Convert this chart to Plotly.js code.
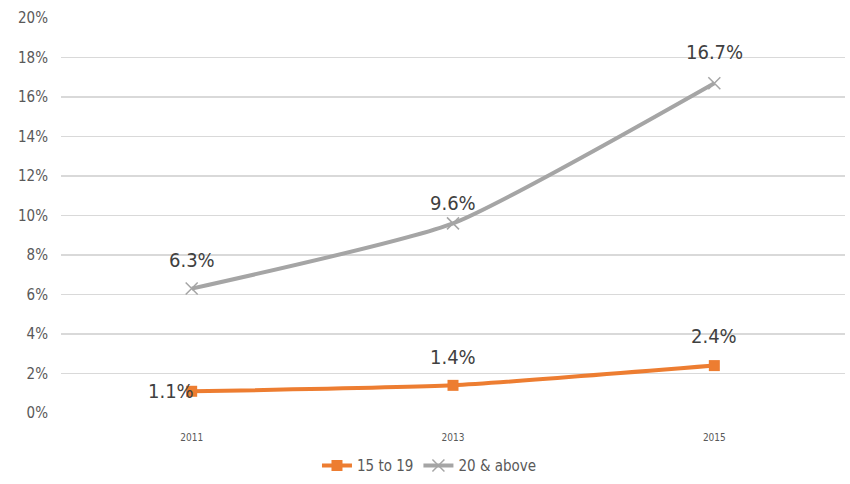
<!DOCTYPE html>
<html>
<head>
<meta charset="utf-8">
<script src="https://cdn.plot.ly/plotly-3.0.1.min.js"></script>
<style>html,body{margin:0;padding:0;background:#fff;}#chart{width:850px;height:484px;}</style>
</head>
<body>
<div id="chart"></div>
<script>
// Data
const years = ["2011", "2013", "2015"];
const seriesA_name = "15 to 19";
const seriesA = [1.1, 1.4, 2.4];
const seriesB_name = "20 & above";
const seriesB = [6.3, 9.6, 16.7];
const yTickVals = [0, 2, 4, 6, 8, 10, 12, 14, 16, 18, 20];

// Styles
const FONT = "'Liberation Sans Narrow', 'Arial Narrow', 'DejaVu Sans Condensed', sans-serif";
const orange = "#ED7D31";
const grey = "#A5A5A5";
const labelStyleA = [{xanchor: "right", xshift: 4, yshift: 0}, {xanchor: "center", xshift: 0, yshift: 28}, {xanchor: "center", xshift: 0, yshift: 30}];
const labelStyleB = [{xanchor: "center", xshift: 0, yshift: 29}, {xanchor: "center", xshift: 0, yshift: 20}, {xanchor: "center", xshift: 0, yshift: 31}];

const traces = [
  {
    x: years, y: seriesA, name: seriesA_name, type: "scatter", mode: "lines+markers",
    line: {color: orange, width: 4, shape: "spline", smoothing: 0.5},
    marker: {symbol: "square", size: 11, color: orange}
  },
  {
    x: years, y: seriesB, name: seriesB_name, type: "scatter", mode: "lines+markers",
    line: {color: grey, width: 4, shape: "spline", smoothing: 0.5},
    marker: {symbol: "x-thin", size: 12, color: grey, line: {color: grey, width: 1.5}}
  }
];

const annotations = [];
function addLabels(vals, styles) {
  vals.forEach((v, i) => {
    annotations.push(Object.assign({
      x: years.indexOf(years[i]), y: v, xref: "x", yref: "y", text: v.toFixed(1) + "%",
      showarrow: false, yanchor: "middle",
      font: {family: FONT, size: 20, color: "#404040"}
    }, styles[i]));
  });
}
addLabels(seriesA, labelStyleA);
addLabels(seriesB, labelStyleB);

const layout = {
  width: 850, height: 484,
  margin: {l: 61, r: 5, t: 18, b: 71, autoexpand: false},
  paper_bgcolor: "#fff", plot_bgcolor: "#fff",
  showlegend: true,
  legend: {orientation: "h", x: 0.47, xanchor: "center", y: -0.092, yanchor: "top",
    font: {family: FONT, size: 15, color: "#595959"}, traceorder: "normal"},
  xaxis: {
    type: "category", range: [-0.5, 2.5], showgrid: false, zeroline: false, showline: false,
    ticks: "", ticklabelstandoff: 17,
    tickfont: {family: FONT, size: 10, color: "#595959"}
  },
  yaxis: {
    range: [0, 20], tickvals: yTickVals, ticktext: yTickVals.map(v => v + "%"),
    showgrid: true, gridcolor: "#D9D9D9", gridwidth: 1.3, zeroline: false, showline: false,
    ticks: "", ticklabelstandoff: 12,
    tickfont: {family: FONT, size: 15, color: "#595959"}
  },
  annotations: annotations
};

Plotly.newPlot("chart", traces, layout, {displayModeBar: false, staticPlot: true});
</script>
</body>
</html>
